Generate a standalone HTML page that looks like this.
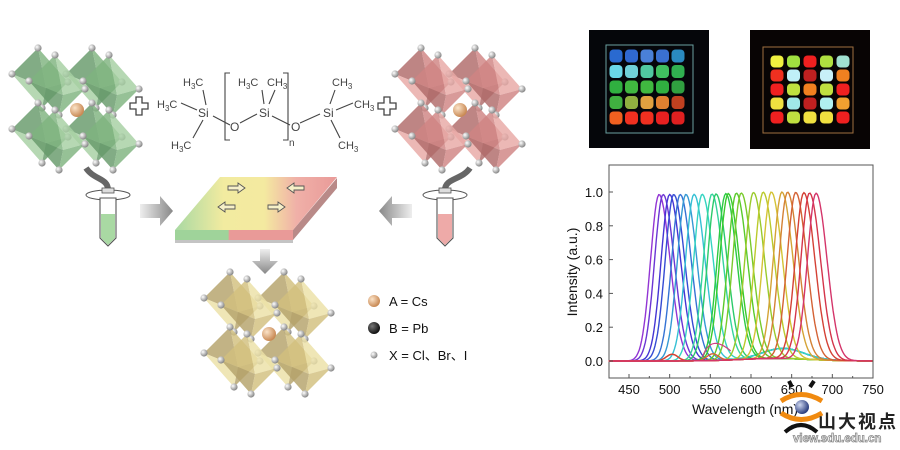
<!DOCTYPE html>
<html><head><meta charset="utf-8"><style>
html,body{margin:0;padding:0;background:#fff;}
svg{display:block;}
text{font-family:"Liberation Sans",sans-serif;}
</style></head><body>
<svg id="s" width="900" height="450" viewBox="0 0 900 450" xmlns="http://www.w3.org/2000/svg">
<defs>
<radialGradient id="cs" cx="35%" cy="35%" r="65%"><stop offset="0" stop-color="#fbe3c8"/><stop offset="1" stop-color="#c98a55"/></radialGradient>
<radialGradient id="pb" cx="35%" cy="35%" r="65%"><stop offset="0" stop-color="#777"/><stop offset="1" stop-color="#111"/></radialGradient>
<radialGradient id="xs" cx="35%" cy="35%" r="65%"><stop offset="0" stop-color="#fff"/><stop offset="1" stop-color="#888"/></radialGradient>
<radialGradient id="ball" cx="35%" cy="35%" r="65%"><stop offset="0" stop-color="#cfd8f0"/><stop offset="1" stop-color="#2c3f80"/></radialGradient>
<linearGradient id="slab" x1="0" x2="1" y1="0" y2="0"><stop offset="0" stop-color="#a9d9a3"/><stop offset="0.3" stop-color="#f2eba0"/><stop offset="0.55" stop-color="#f4eaa0"/><stop offset="0.75" stop-color="#f0b0a8"/><stop offset="1" stop-color="#e99a98"/></linearGradient>
<linearGradient id="slabf" x1="0" x2="1"><stop offset="0" stop-color="#9fd39a"/><stop offset="0.45" stop-color="#9fd39a"/><stop offset="0.46" stop-color="#e99a98"/><stop offset="1" stop-color="#e99a98"/></linearGradient>
<linearGradient id="arR" x1="0" x2="1"><stop offset="0" stop-color="#eee"/><stop offset="1" stop-color="#888"/></linearGradient>
<linearGradient id="arL" x1="1" x2="0"><stop offset="0" stop-color="#eee"/><stop offset="1" stop-color="#888"/></linearGradient>
<linearGradient id="arD" x1="0" x2="0" y1="0" y2="1"><stop offset="0" stop-color="#eee"/><stop offset="1" stop-color="#888"/></linearGradient>
</defs>
<g id="g"></g>
</svg>
<script>
var S=document.getElementById('g'),h='';
function add(x){h+=x;}
function oct(cx,cy,c1,c2,c3){
 var T=[cx-2,cy-30],B=[cx+2,cy+30],L=[cx-28,cy-4],R=[cx+28,cy+4],F=[cx+6,cy+10],K=[cx-6,cy-10];
 function p(a){return a.map(function(v){return v[0]+','+v[1]}).join(' ');}
 add('<polygon points="'+p([T,L,F])+'" fill="'+c1+'" opacity="0.82"/>');
 add('<polygon points="'+p([T,F,R])+'" fill="'+c2+'" opacity="0.82"/>');
 add('<polygon points="'+p([B,L,F])+'" fill="'+c3+'" opacity="0.82"/>');
 add('<polygon points="'+p([B,F,R])+'" fill="'+c1+'" opacity="0.82"/>');
 [T,B,L,R].forEach(function(v){add('<circle cx="'+v[0]+'" cy="'+v[1]+'" r="3.6" fill="url(#xs)"/>');});
}
function cluster(x0,y0,c1,c2,c3){
 var pos=[[0,0],[54,0],[0,55],[54,55]];
 pos.forEach(function(q){oct(x0+q[0],y0+q[1],c3,c1,c2);});
 pos.forEach(function(q){oct(x0+q[0]+17,y0+q[1]+7,c1,c2,c3);});
 add('<circle cx="'+(x0+37)+'" cy="'+(y0+32)+'" r="7" fill="url(#cs)"/>');
}
cluster(40,78,'#7fb37f','#a6d0a2','#679a6a');
cluster(423,78,'#d08482','#e8a8a5','#b06a69');
cluster(232,302,'#d2c07e','#ece0a6','#b5a26a');
function plus(x,y){add('<path d="M'+(x-3)+','+(y-9)+'h6v6h6v6h-6v6h-6v-6h-6v-6h6z" fill="#fff" stroke="#444" stroke-width="1.3"/>');}
plus(139,106);plus(387,106);
var t=function(x,y,s,sz){add('<text x="'+x+'" y="'+y+'" font-size="'+(sz||11)+'" fill="#444">'+s+'</text>');};
function ch(x,y,pre){add('<text x="'+x+'" y="'+y+'" font-size="11" fill="#444">'+(pre?'H<tspan font-size="8" dy="3">3</tspan><tspan dy="-3">C</tspan>':'CH<tspan font-size="8" dy="3">3</tspan>')+'</text>');}
ch(183,86,1);ch(157,108,1);ch(171,149,1);ch(238,86,1);ch(267,86,0);ch(332,86,0);ch(354,108,0);ch(338,149,0);
t(198,117,'Si',12);t(259,117,'Si',12);t(323,117,'Si',12);t(230,131,'O',12);t(291,131,'O',12);t(289,146,'n',10);
add('<g stroke="#444" stroke-width="1.1" fill="none">'+
'<line x1="203" y1="90" x2="206" y2="105"/><line x1="181" y1="103" x2="197" y2="110"/><line x1="203" y1="120" x2="193" y2="138"/>'+
'<line x1="213" y1="116" x2="230" y2="125"/><line x1="240" y1="123" x2="257" y2="114"/><line x1="272" y1="116" x2="290" y2="125"/><line x1="300" y1="123" x2="320" y2="114"/>'+
'<line x1="262" y1="90" x2="264" y2="104"/><line x1="275" y1="90" x2="269" y2="104"/>'+
'<line x1="335" y1="90" x2="330" y2="104"/><line x1="336" y1="110" x2="353" y2="103"/><line x1="331" y1="120" x2="340" y2="138"/>'+
'<path d="M230,73h-5v67h5"/><path d="M283,73h5v67h-5"/></g>');
add('<polygon points="175,240 293,240 337,188 337,180 293,230 175,230" fill="#d0d0d0"/>');
add('<polygon points="175,230 293,230 293,240 175,240" fill="url(#slabf)"/>');
add('<polygon points="175,240 293,240 293,243 175,243" fill="#c4c4c4"/>');
add('<polygon points="293,230 337,178 337,188 293,240" fill="#b98a88"/>');
add('<polygon points="220,177 337,177 293,230 175,230" fill="url(#slab)"/>');
function ha(x,y,d){var s=d>0?'M'+x+','+(y-2)+'h10v-3l7,5-7,5v-3h-10z':'M'+(x+17)+','+(y-2)+'h-10v-3l-7,5 7,5v-3h10z';add('<path d="'+s+'" fill="#f6f0c8" stroke="#555" stroke-width="0.9"/>');}
ha(228,188,1);ha(287,188,-1);ha(218,207,-1);ha(268,207,1);
add('<path d="M140,204h20v-8l13,15-13,15v-8h-20z" fill="url(#arR)"/>');
add('<path d="M412,204h-20v-8l-13,15 13,15v-8h20z" fill="url(#arL)"/>');
add('<path d="M260,249h10v12h8l-13,13-13-13h8z" fill="url(#arD)"/>');
function tube(x,col,hx){
 add('<path d="M'+hx+',168 C'+(hx+(x>200?-8:8))+',180 '+x+',178 '+x+',190" stroke="#666" stroke-width="6" fill="none"/>');
 add('<ellipse cx="'+x+'" cy="195" rx="22" ry="5" fill="none" stroke="#555" stroke-width="1"/>');
 add('<rect x="'+(x-6)+'" y="188" width="12" height="5" fill="#ddd" stroke="#555" stroke-width="0.8"/>');
 add('<path d="M'+(x-8)+',198 L'+(x-8)+',238 L'+x+',246 L'+(x+8)+',238 L'+(x+8)+',198 Z" fill="#fff" stroke="#555" stroke-width="1.1"/>');
 add('<path d="M'+(x-7)+',214 L'+(x-7)+',238 L'+x+',245 L'+(x+7)+',238 L'+(x+7)+',214 Z" fill="'+col+'"/>');
}
tube(108,'#a9d9a3',86);tube(445,'#eeaaa8',470);
add('<circle cx="374" cy="301" r="6" fill="url(#cs)"/><circle cx="374" cy="328" r="6" fill="url(#pb)"/><circle cx="374" cy="355" r="3.5" fill="url(#xs)"/>');
add('<text x="389" y="306" font-size="13" fill="#111">A = Cs</text><text x="389" y="333" font-size="13" fill="#111">B = Pb</text><text x="389" y="360" font-size="13" fill="#111" style="font-family:\'Liberation Sans\',\'Noto Sans CJK SC\',sans-serif">X = Cl、Br、I</text>');
add('<rect x="589" y="30" width="120" height="118" fill="#05060a"/><rect x="750" y="30" width="120" height="119" fill="#080404"/>');
add('<rect x="606" y="45" width="87" height="88" fill="none" stroke="#6aa0a0" stroke-width="1"/><rect x="763" y="47" width="90" height="86" fill="none" stroke="#a07040" stroke-width="1"/>');
var L=[['#2a6ad0','#3068d0','#4a80d8','#3a70d0','#2a8ac0'],['#6ad8e8','#70d0d8','#50c8a0','#40c060','#30b050'],['#30b040','#40b840','#40b840','#30b040','#30a040'],['#40b040','#90b040','#e0a040','#e08030','#c04020'],['#f06020','#f03020','#f03020','#e82020','#e02020']];
var R=[['#f0f040','#a0e040','#f02020','#b0e040','#a0e0d0'],['#f03020','#c0f0f8','#c02020','#c8f0f8','#f08020'],['#f02020','#c0e040','#f08020','#c0e040','#f02020'],['#f0e040','#a0e8e8','#c02020','#b0f0f0','#f0a030'],['#f02020','#c0e040','#f0e040','#f0e040','#f02020']];
for(var i=0;i<5;i++)for(var j=0;j<5;j++){
 add('<rect x="'+(609.5+j*15.5)+'" y="'+(49.5+i*15.5)+'" width="13" height="13" rx="4" fill="'+L[i][j]+'"/>');
 add('<rect x="'+(770.5+j*16.5)+'" y="'+(55.5+i*14)+'" width="13" height="12" rx="4" fill="'+R[i][j]+'"/>');
}
var x0=609,x1=873,yT=165,yB=378;
function X(w){return 629+(w-450)*0.8133;}
function Y(v){return 361-v*169;}
add('<rect x="'+x0+'" y="'+yT+'" width="'+(x1-x0)+'" height="'+(yB-yT)+'" fill="#fff" stroke="#555" stroke-width="1"/>');
var peaks=[487,492,500,505,513,520,530,540,552,557,569,572,582,588,603,615,625,638,645,655,665,672,680];
peaks.forEach(function(p,k){
 var f=k/(peaks.length-1);var hue=f<0.5?275-f*2*160:115-(f-0.5)*2*135;if(hue<0)hue+=360;
 var d='';
 for(var w=425;w<=750;w+=1.5){
  var s=(w<p)?10.5:13.5;var v=Math.exp(-Math.pow((w-p)/s,2)/2)*0.985+0.015*Math.exp(-Math.pow((w-630)/60,2));
  if(k<8) v+=0.06*Math.exp(-Math.pow((w-640)/35,2))*(w>p?1:0);
  if(k>=18&&k<21) v+=0.04*Math.exp(-Math.pow((w-(k==19?553:503))/10,2));
  d+=(d?'L':'M')+X(w).toFixed(1)+','+Y(v).toFixed(1);
 }
 add('<path d="'+d+'" fill="none" stroke="hsl('+hue+',65%,'+(f>0.4&&f<0.7?48:52)+'%)" stroke-width="1.4"/>');
});
add('<path d="'+'M'+X(540)+','+Y(0.02)+' C'+X(548)+','+Y(0.13)+' '+X(560)+','+Y(0.12)+' '+X(575)+','+Y(0.06)+'" fill="none" stroke="#d04080" stroke-width="1.2"/>');
for(var w=450;w<=750;w+=50){var xx=X(w);add('<line x1="'+xx+'" y1="'+yB+'" x2="'+xx+'" y2="'+(yB-4)+'" stroke="#555"/>');add('<text x="'+xx+'" y="'+(yB+16)+'" font-size="13" text-anchor="middle" fill="#111">'+w+'</text>');}
for(var w=475;w<=725;w+=50){var xx=X(w);add('<line x1="'+xx+'" y1="'+yB+'" x2="'+xx+'" y2="'+(yB-2)+'" stroke="#555"/>');}
for(var v=0;v<=5;v++){var yy=Y(v*0.2);add('<line x1="'+x0+'" y1="'+yy+'" x2="'+(x0+4)+'" y2="'+yy+'" stroke="#555"/>');add('<text x="'+(x0-6)+'" y="'+(yy+5)+'" font-size="13" text-anchor="end" fill="#111">'+(v*0.2).toFixed(1)+'</text>');}
add('<text transform="translate(577,272) rotate(-90)" font-size="14" text-anchor="middle" fill="#111">Intensity (a.u.)</text>');
add('<text x="745" y="414" font-size="14" text-anchor="middle" fill="#111">Wavelength (nm)</text>');
add('<path d="M781,401 Q801,388 822,401" stroke="#f08a10" stroke-width="5" fill="none"/><path d="M781,413 Q801,426 822,413" stroke="#f08a10" stroke-width="5" fill="none"/>');
add('<path d="M785,432 Q801,418 817,432" stroke="#111" stroke-width="4" fill="none"/>');
add('<line x1="792" y1="387" x2="789" y2="381" stroke="#111" stroke-width="4"/><line x1="810" y1="387" x2="814" y2="381" stroke="#111" stroke-width="4"/>');
add('<circle cx="802" cy="407" r="7" fill="url(#ball)"/>');
add('<text x="818" y="428" font-size="18" font-weight="bold" fill="#222" letter-spacing="2" style="font-family:\'Noto Sans CJK SC\',sans-serif">山大视点</text>');
add('<text x="793" y="442" font-size="11.5" font-weight="bold" fill="#fff" stroke="#888" stroke-width="0.8">view.sdu.edu.cn</text>');
S.innerHTML=h;
</script>
</body></html>
